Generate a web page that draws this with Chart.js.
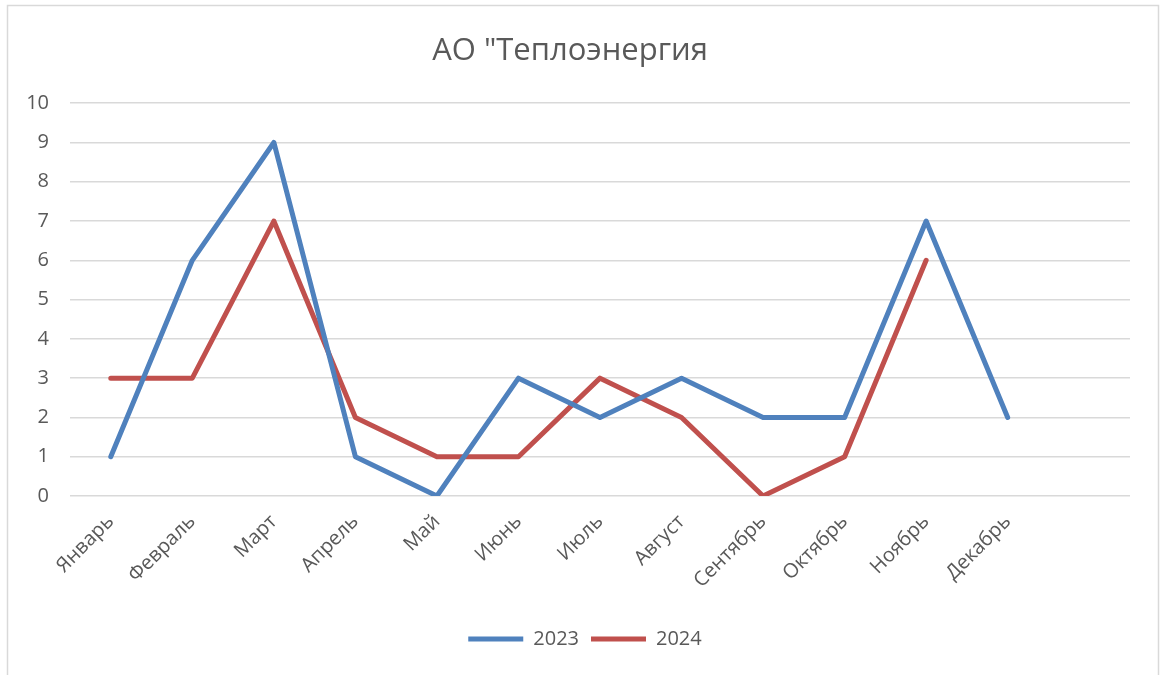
<!DOCTYPE html>
<html>
<head>
<meta charset="utf-8">
<script src="https://cdn.jsdelivr.net/npm/chart.js@4/dist/chart.umd.min.js"></script>
<style>
html,body{margin:0;padding:0;background:#fff;}
#wrap{position:relative;width:1165px;height:675px;}
</style>
</head>
<body>
<div id="wrap"><canvas id="c" width="1165" height="675"></canvas></div>
<script>
const titleText = 'АО "Теплоэнергия';
const categories = ['Январь','Февраль','Март','Апрель','Май','Июнь','Июль','Август','Сентябрь','Октябрь','Ноябрь','Декабрь',''];
const series2023 = [1,6,9,1,0,3,2,3,2,2,7,2];
const series2024 = [3,3,7,2,1,1,3,2,0,1,6,null];
const yTicks = [0,1,2,3,4,5,6,7,8,9,10];

const FONT = "'Open Sans', 'Noto Sans', sans-serif";
const TXT = '#595959';

const borderPlugin = {
  id: 'frame',
  beforeDraw(chart){
    const ctx = chart.ctx;
    ctx.save();
    ctx.fillStyle = '#fff';
    ctx.fillRect(0,0,chart.width,chart.height);
    ctx.strokeStyle = '#d9d9d9';
    ctx.lineWidth = 1.5;
    ctx.strokeRect(7.5,5.5,1151,720);
    ctx.restore();
  },
  afterLayout(chart){
    const lg = chart.legend;
    if (lg) { lg.left += 15; lg.right += 15; }
  }
};

new Chart(document.getElementById('c'), {
  type: 'line',
  data: {
    labels: categories,
    datasets: [
      {label:'2023', data: series2023, borderColor:'#4F81BD', backgroundColor:'#4F81BD',
       borderWidth:5, pointRadius:0, pointHoverRadius:0, pointStyle:'line', tension:0,
       borderCapStyle:'round', borderJoinStyle:'round', spanGaps:false},
      {label:'2024', data: series2024, borderColor:'#C0504D', backgroundColor:'#C0504D',
       borderWidth:5, pointRadius:0, pointHoverRadius:0, pointStyle:'line', tension:0,
       borderCapStyle:'round', borderJoinStyle:'round', spanGaps:false}
    ]
  },
  options: {
    responsive:false,
    animation:false,
    devicePixelRatio:1,
    layout:{padding:{left:10,right:35,top:0,bottom:16}},
    plugins:{
      title:{display:true, text:titleText, color:TXT,
        font:{family:FONT, size:31, weight:'normal'}, padding:{top:33,bottom:33}},
      legend:{position:'bottom', labels:{usePointStyle:true, pointStyleWidth:55, boxHeight:20,
        color:TXT, font:{family:FONT, size:20}, padding:12}},
      tooltip:{enabled:false}
    },
    scales:{
      x:{
        offset:true,
        grid:{display:false, drawTicks:false},
        border:{display:false},
        ticks:{color:TXT, font:{family:FONT, size:20}, minRotation:45, maxRotation:45, padding:14, autoSkip:false},
        afterFit(s){ s.height = 121; }
      },
      y:{
        min:0, max:10,
        afterBuildTicks(s){ s.ticks = yTicks.map(v=>({value:v})); },
        grid:{color:'#d9d9d9', lineWidth:1.5, drawTicks:false},
        border:{display:false},
        ticks:{color:TXT, font:{family:FONT, size:20}, padding:21, stepSize:1},
        afterFit(s){ s.width = 60; }
      }
    }
  },
  plugins:[borderPlugin]
});
</script>
</body>
</html>
